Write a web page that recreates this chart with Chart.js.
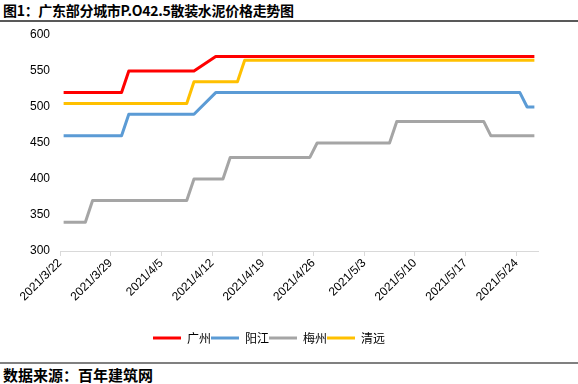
<!DOCTYPE html>
<html><head><meta charset="utf-8">
<script src="https://cdn.jsdelivr.net/npm/chart.js@4/dist/chart.umd.min.js"></script>
<style>
html,body{margin:0;padding:0;background:#fff;}
#wrap{position:relative;width:578px;height:384px;overflow:hidden;font-family:"Noto Sans CJK SC","Noto Sans",sans-serif;}
#title{position:absolute;left:3px;top:1px;font-size:14px;letter-spacing:-0.3px;font-weight:bold;color:#000;white-space:nowrap;line-height:19px;}
#topline{position:absolute;left:0;top:20px;width:578px;height:2px;background:#595959;}
#botline{position:absolute;left:0;top:362px;width:578px;height:2px;background:#808080;}
#foot{position:absolute;left:3px;top:365px;font-size:15px;font-weight:bold;color:#000;white-space:nowrap;line-height:19px;}
#cwrap{position:absolute;left:0;top:22px;width:578px;height:340px;}
</style></head>
<body><div id="wrap">
<div id="title">图1：广东部分城市P.O42.5散装水泥价格走势图</div>
<div id="topline"></div>
<div id="cwrap"><canvas id="c"></canvas></div>
<div id="botline"></div>
<div id="foot">数据来源：百年建筑网</div>
</div>
<script>
const dates = ["2021/3/22","2021/3/23","2021/3/24","2021/3/25","2021/3/26","2021/3/27","2021/3/28",
"2021/3/29","2021/3/30","2021/3/31","2021/4/1","2021/4/2","2021/4/3","2021/4/4",
"2021/4/5","2021/4/6","2021/4/7","2021/4/8","2021/4/9","2021/4/10","2021/4/11",
"2021/4/12","2021/4/13","2021/4/14","2021/4/15","2021/4/16","2021/4/17","2021/4/18",
"2021/4/19","2021/4/20","2021/4/21","2021/4/22","2021/4/23","2021/4/24","2021/4/25",
"2021/4/26","2021/4/27","2021/4/28","2021/4/29","2021/4/30","2021/5/1","2021/5/2",
"2021/5/3","2021/5/4","2021/5/5","2021/5/6","2021/5/7","2021/5/8","2021/5/9",
"2021/5/10","2021/5/11","2021/5/12","2021/5/13","2021/5/14","2021/5/15","2021/5/16",
"2021/5/17","2021/5/18","2021/5/19","2021/5/20","2021/5/21","2021/5/22","2021/5/23",
"2021/5/24","2021/5/25","2021/5/26"];
const tickLabels = ["2021/3/22","2021/3/29","2021/4/5","2021/4/12","2021/4/19","2021/4/26","2021/5/3","2021/5/10","2021/5/17","2021/5/24"];
const yTicks = [300,350,400,450,500,550,600];
const guangzhou = [520,520,520,520,520,520,520,520,520,550,550,550,550,550,550,550,550,550,550,null,null,
570,570,570,570,570,570,570,570,570,570,570,570,570,570,570,570,570,570,570,570,570,570,570,570,570,
570,570,570,570,570,570,570,570,570,570,570,570,570,570,570,570,570,570,570,570];
const yangjiang = [460,460,460,460,460,460,460,460,460,490,490,490,490,490,490,490,490,490,490,null,null,
520,520,520,520,520,520,520,520,520,520,520,520,520,520,520,520,520,520,520,520,520,520,520,520,520,
520,520,520,520,520,520,520,520,520,520,520,520,520,520,520,520,520,520,500,500];
const meizhou = [340,340,340,340,370,370,370,370,370,370,370,370,370,370,370,370,370,370,400,null,null,
400,400,430,430,430,430,430,430,430,430,430,430,430,430,450,450,450,450,450,450,450,450,450,450,450,
480,480,480,480,480,480,480,480,480,480,480,480,480,460,460,460,460,460,460,460];
const qingyuan = [505,505,505,505,505,505,505,505,505,505,505,505,505,505,505,505,505,505,535,null,null,
535,535,535,535,565,565,565,565,565,565,565,565,565,565,565,565,565,565,565,565,565,565,565,565,565,
565,565,565,565,565,565,565,565,565,565,565,565,565,565,565,565,565,565,565,565];
const seriesNames = ["广州","阳江","梅州","清远"];
const colors = ["#FF0000","#5B9BD5","#A5A5A5","#FFC000"];

function pts(arr){ return arr.map((v,i)=>({x:i+0.5,y:v})); }
const allSeries = [guangzhou,yangjiang,meizhou,qingyuan];
const datasets = allSeries.map((s,k)=>({
  label: seriesNames[k], data: pts(s), borderColor: colors[k], backgroundColor: colors[k],
  borderWidth: 3, pointRadius: 0, pointHoverRadius: 0, tension: 0, spanGaps: true, fill:false,
  borderJoinStyle:'round'
}));
const latin = "'Liberation Sans', Arial, sans-serif";
new Chart(document.getElementById('c'), {
  type: 'line',
  data: { datasets },
  options: {
    responsive: true, maintainAspectRatio: false, animation: false,
    layout: { padding: { left: 0, right: 40, top: 13, bottom: 8 } },
    plugins: {
      tooltip: { enabled: false },
      legend: {
        position: 'bottom',
        labels: {
          usePointStyle: true, pointStyle: 'line', pointStyleWidth: 28, boxWidth: 28, boxHeight: 12,
          padding: 0, color: '#000',
          font: { family: "'Noto Sans CJK SC', sans-serif", size: 12 }
        }
      }
    },
    scales: {
      x: {
        type: 'linear', min: 0, max: dates.length,
        afterBuildTicks: (scale) => { scale.ticks = tickLabels.map(l => ({ value: dates.indexOf(l) })); },
        afterFit: (scale) => { scale.height = 81; },
        grid: { drawOnChartArea: false, drawTicks: true, tickLength: 5, color: '#d9d9d9', lineWidth: 1 },
        border: { display: true, color: '#d9d9d9', width: 1 },
        ticks: {
          autoSkip: false, maxRotation: 45, minRotation: 45, padding: 0, color: '#000',
          font: { family: latin, size: 12 },
          callback: (v) => dates[v]
        }
      },
      y: {
        min: 300, max: 600,
        afterBuildTicks: (scale) => { scale.ticks = yTicks.map(v => ({ value: v })); },
        afterFit: (scale) => { scale.width = 60; },
        grid: { display: false, drawTicks: true, tickLength: 8 },
        border: { display: false },
        ticks: { padding: 2, color: '#000', font: { family: latin, size: 12 } }
      }
    }
  }
});
</script>
</body></html>
